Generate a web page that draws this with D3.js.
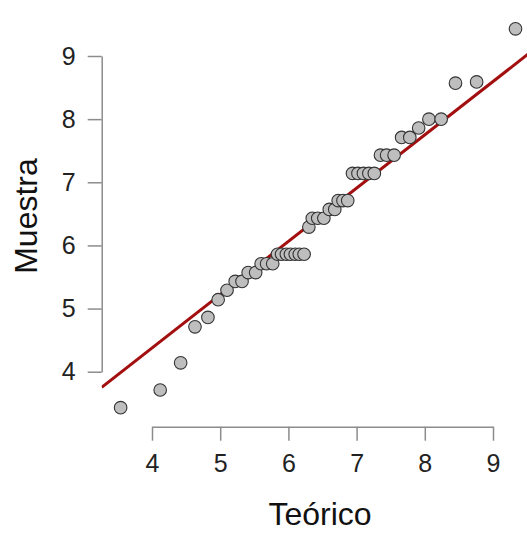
<!DOCTYPE html>
<html>
<head>
<meta charset="utf-8">
<script src="https://cdn.jsdelivr.net/npm/d3@7"></script>
<style>
  body { margin: 0; background: #fff; }
  svg { display: block; font-family: "Liberation Sans", Arial, Helvetica, sans-serif; }
</style>
</head>
<body>
<div id="qq"></div>
<script>
// teoretical quantiles (x) and sample values (y)
let teorico = [3.54, 4.12, 4.42, 4.63, 4.82, 4.97, 5.10, 5.22, 5.32, 5.41,
    5.52, 5.60, 5.68, 5.77, 5.84, 5.90, 5.97, 6.03, 6.10, 6.16,
    6.23, 6.30, 6.35, 6.43, 6.52, 6.60, 6.68, 6.73, 6.80, 6.87,
    6.94, 7.02, 7.10, 7.18, 7.26, 7.35, 7.44, 7.55, 7.66, 7.78,
    7.91, 8.06, 8.24, 8.45, 8.76, 9.33];
let muestra = [3.43, 3.71, 4.14, 4.71, 4.86, 5.14, 5.29, 5.43, 5.43, 5.57,
    5.57, 5.71, 5.71, 5.71, 5.86, 5.86, 5.86, 5.86, 5.86, 5.86,
    5.86, 6.29, 6.43, 6.43, 6.43, 6.57, 6.57, 6.71, 6.71, 6.71,
    7.14, 7.14, 7.14, 7.14, 7.14, 7.43, 7.43, 7.43, 7.71, 7.71,
    7.86, 8.00, 8.00, 8.57, 8.59, 9.43];

// reference line (qqline) : muestra = a + b * teorico
let lineIntercept = 1.0;
let lineSlope = 0.844;

let xTicks = [4, 5, 6, 7, 8, 9];
let yTicks = [4, 5, 6, 7, 8, 9];

let width = 527;
let height = 533;

// plot region (R style, axes sit on its edges)
let plot = { left: 101.7, right: 540, top: 8, bottom: 426.7 };

let svg = d3.select('#qq')
    .append('svg')
    .attr('width', width)
    .attr('height', height);

let x = d3.scaleLinear().domain([4, 9]).range([152, 493]);
let y = d3.scaleLinear().domain([4, 9]).range([371.7, 56]);

svg.append('clipPath')
    .attr('id', 'plotClip')
    .append('rect')
    .attr('x', plot.left)
    .attr('y', plot.top)
    .attr('width', plot.right - plot.left)
    .attr('height', plot.bottom - plot.top);

// axes
let xAxis = svg.append('g')
    .attr('transform', `translate(0,${plot.bottom})`)
    .call(d3.axisBottom(x).tickValues(xTicks).tickFormat(d3.format('d'))
        .tickSize(14).tickSizeOuter(0).tickPadding(14));

let yAxis = svg.append('g')
    .attr('transform', `translate(${plot.left},0)`)
    .call(d3.axisLeft(y).tickValues(yTicks).tickFormat(d3.format('d'))
        .tickSize(14).tickSizeOuter(0).tickPadding(12));

[xAxis, yAxis].forEach(a => {
    a.select('.domain').attr('stroke', '#8c8c8c').attr('stroke-width', 1.5);
    a.selectAll('.tick line').attr('stroke', '#8c8c8c').attr('stroke-width', 1.5);
    a.selectAll('.tick text')
        .attr('fill', '#222')
        .style('font-size', '25px')
        .style('font-family', '"Liberation Sans", Arial, sans-serif');
});

// reference line, clipped to the plot region
let t0 = x.invert(plot.left);
let t1 = x.invert(plot.right);
svg.append('line')
    .attr('clip-path', 'url(#plotClip)')
    .attr('x1', x(t0))
    .attr('y1', y(lineIntercept + lineSlope * t0))
    .attr('x2', x(t1))
    .attr('y2', y(lineIntercept + lineSlope * t1))
    .attr('stroke', '#a30f0f')
    .attr('stroke-width', 3);

// points
svg.selectAll('.pt')
    .data(teorico.map((t, i) => ({ t: t, v: muestra[i] })))
    .enter()
    .append('circle')
    .attr('class', 'pt')
    .attr('cx', d => x(d.t))
    .attr('cy', d => y(d.v))
    .attr('r', 6.3)
    .attr('fill', '#bebebe')
    .attr('stroke', '#333')
    .attr('stroke-width', 1.1);

// axis titles
svg.append('text')
    .text('Teórico')
    .attr('x', 320)
    .attr('y', 525)
    .attr('text-anchor', 'middle')
    .attr('fill', '#111')
    .style('font-size', '32px');

svg.append('text')
    .text('Muestra')
    .attr('transform', 'translate(36.7,216) rotate(-90)')
    .attr('text-anchor', 'middle')
    .attr('fill', '#111')
    .style('font-size', '32px');
</script>
</body>
</html>
